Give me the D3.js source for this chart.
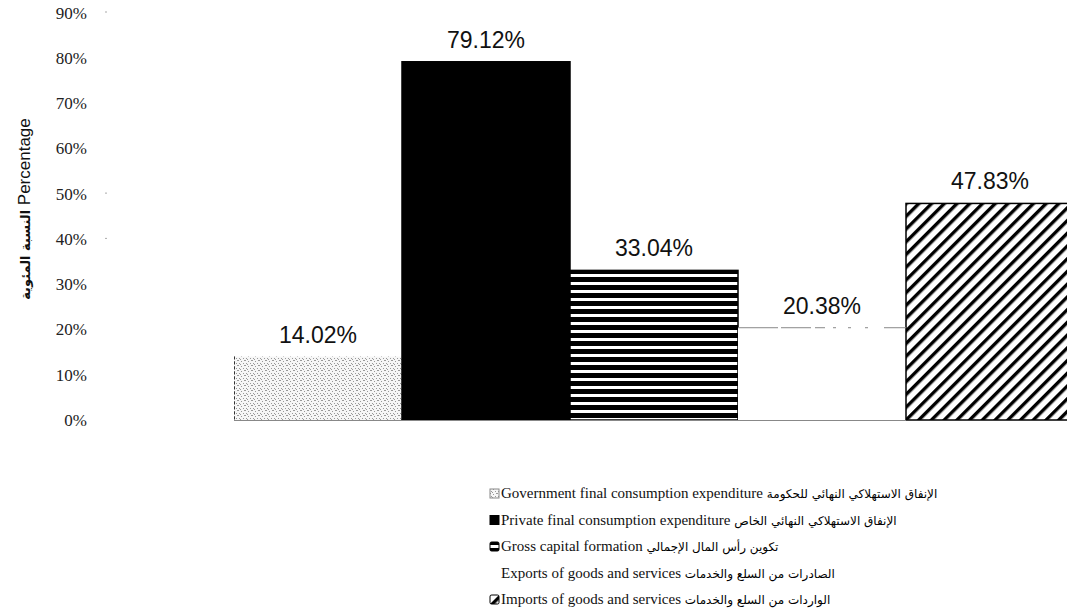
<!DOCTYPE html>
<html>
<head>
<meta charset="utf-8">
<script src="https://cdn.jsdelivr.net/npm/d3@7"></script>
<style>
  html, body { margin: 0; padding: 0; background: #fff; }
  svg { display: block; }
</style>
</head>
<body>
<svg id="chart"></svg>
<script>
// series (one category, five series)
const seriesEn = [
    'Government final consumption expenditure',
    'Private final consumption expenditure',
    'Gross capital formation',
    'Exports of goods and services',
    'Imports of goods and services'
];
const seriesAr = [
    'الإنفاق الاستهلاكي النهائي للحكومة',
    'الإنفاق الاستهلاكي النهائي الخاص',
    'تكوين رأس المال الإجمالي',
    'الصادرات من السلع والخدمات',
    'الواردات من السلع والخدمات'
];
const values = [0.1402, 0.7912, 0.3304, 0.2038, 0.4783];
const valueLabels = ['14.02%', '79.12%', '33.04%', '20.38%', '47.83%'];
const yTicks = [0, 0.1, 0.2, 0.3, 0.4, 0.5, 0.6, 0.7, 0.8, 0.9];

const W = 1067, H = 610;
const svg = d3.select('#chart').attr('width', W).attr('height', H);

const x = d3.scaleBand().domain(d3.range(values.length)).range([234, 1074]).padding(0);
const y = d3.scaleLinear().domain([0, 0.9]).range([420, 12.5]);

// fills
const defs = svg.append('defs');

const speck = defs.append('pattern')
    .attr('id', 'speck').attr('patternUnits', 'userSpaceOnUse')
    .attr('width', 7).attr('height', 5);
speck.append('rect').attr('width', 7).attr('height', 5).attr('fill', '#f6f6f6');
[[0, 0], [3, 1], [5, 3], [1, 3], [6, 0], [2, 4]].forEach(([px, py]) => {
    speck.append('rect').attr('x', px).attr('y', py).attr('width', 1).attr('height', 1).attr('fill', '#999');
});

const hstripe = defs.append('pattern')
    .attr('id', 'hstripe').attr('patternUnits', 'userSpaceOnUse')
    .attr('width', 8).attr('height', 8);
hstripe.append('rect').attr('width', 8).attr('height', 8).attr('fill', '#000');
hstripe.append('rect').attr('y', 2).attr('width', 8).attr('height', 3).attr('fill', '#fff');

const diag = defs.append('pattern')
    .attr('id', 'diag').attr('patternUnits', 'userSpaceOnUse')
    .attr('width', 9).attr('height', 9)
    .attr('patternTransform', 'rotate(45)');
diag.append('rect').attr('width', 9).attr('height', 9).attr('fill', '#fff');
diag.append('rect').attr('width', 3.4).attr('height', 9).attr('fill', '#000');

const fills = ['url(#speck)', '#000', 'url(#hstripe)', '#fff', 'url(#diag)'];
const strokes = ['none', '#000', '#000', 'none', '#000'];

// y axis labels (no visible axis line)
svg.append('g').selectAll('text')
    .data(yTicks)
    .join('text')
    .attr('x', 87)
    .attr('y', d => y(d) + 6)
    .attr('text-anchor', 'end')
    .attr('font-family', '"Liberation Serif", "Times New Roman", serif')
    .attr('font-size', 17)
    .attr('fill', '#222')
    .text(d => Math.round(d * 100) + '%');

svg.append('g').selectAll('rect')
    .data([0.9, 0.5, 0.4])
    .join('rect')
    .attr('x', 105).attr('y', d => y(d) - 1)
    .attr('width', 2).attr('height', 1)
    .attr('fill', '#aaa');

const yTitle = svg.append('text')
    .attr('transform', 'translate(30,209) rotate(-90)')
    .attr('text-anchor', 'middle')
    .attr('font-family', 'Arial, "Liberation Sans", sans-serif')
    .attr('font-size', 17)
    .attr('fill', '#111');
yTitle.append('tspan')
    .attr('font-family', '"DejaVu Sans", sans-serif')
    .attr('font-size', 13)
    .attr('font-weight', 'bold')
    .text('النسبة المئوية');
yTitle.append('tspan').text(' Percentage');

// bars
svg.append('g').selectAll('rect')
    .data(values)
    .join('rect')
    .attr('x', (_, i) => x(i))
    .attr('y', d => y(d))
    .attr('width', x.bandwidth())
    .attr('height', d => y(0) - y(d))
    .attr('fill', (_, i) => fills[i])
    .attr('stroke', (_, i) => strokes[i])
    .attr('stroke-width', 1.5);

// exports bar: faint top edge only
svg.append('line')
    .attr('x1', x(3)).attr('x2', x(3) + x.bandwidth())
    .attr('y1', y(values[3])).attr('y2', y(values[3]))
    .attr('stroke', '#888').attr('stroke-width', 1)
    .attr('stroke-dasharray', '40 3 30 4 10 8 3 12 3 14 3 16');

// gov bar left edge
svg.append('line')
    .attr('x1', x(0) + 0.5).attr('x2', x(0) + 0.5)
    .attr('y1', y(values[0])).attr('y2', y(0))
    .attr('stroke', '#333').attr('stroke-width', 1)
    .attr('stroke-dasharray', '3 2');

// baseline
svg.append('line')
    .attr('x1', x(0)).attr('x2', x(3) + x.bandwidth())
    .attr('y1', y(0) + 0.5).attr('y2', y(0) + 0.5)
    .attr('stroke', '#888').attr('stroke-width', 1);

// value labels
svg.append('g').selectAll('text')
    .data(values)
    .join('text')
    .attr('x', (_, i) => x(i) + x.bandwidth() / 2)
    .attr('y', d => y(d) - 14)
    .attr('text-anchor', 'middle')
    .attr('font-family', 'Arial, "Liberation Sans", sans-serif')
    .attr('font-size', 23)
    .attr('fill', '#111')
    .text((_, i) => valueLabels[i]);

// legend
const lg = svg.append('g').attr('transform', 'translate(490,498)');
const rows = lg.selectAll('g')
    .data(seriesEn)
    .join('g')
    .attr('transform', (_, i) => `translate(0,${i * 26.5})`);

rows.append('rect')
    .attr('x', 0).attr('y', -9)
    .attr('width', 9).attr('height', 9)
    .attr('rx', (_, i) => i === 2 || i === 4 ? 1.5 : 0)
    .attr('fill', (_, i) => ['url(#speck)', '#000', 'url(#hstripe)', '#fff', 'url(#diag)'][i])
    .attr('stroke', (_, i) => ['#888', '#000', '#000', 'none', '#000'][i])
    .attr('stroke-width', 1);

rows.append('text')
    .attr('x', 11).attr('y', 0)
    .attr('font-family', '"Liberation Serif", "Times New Roman", serif')
    .attr('font-size', 15)
    .attr('fill', '#111')
    .attr('direction', 'ltr')
    .text(d => d + ' ')
    .append('tspan')
    .attr('font-family', '"DejaVu Sans", sans-serif')
    .attr('font-size', 12)
    .attr('fill', '#000')
    .text((_, i) => seriesAr[i]);
</script>
</body>
</html>
